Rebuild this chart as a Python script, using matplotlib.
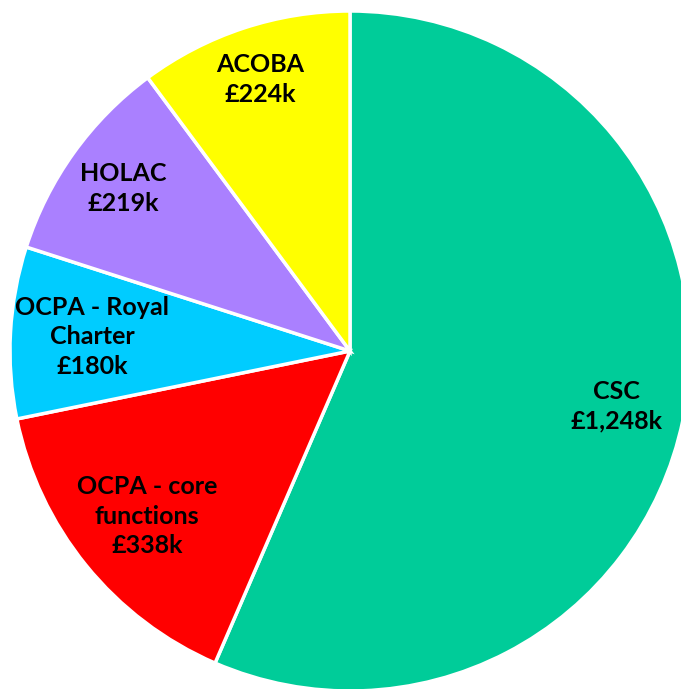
import numpy as np
import matplotlib.pyplot as plt

labels = ["CSC", "OCPA - core\nfunctions", "OCPA - Royal\nCharter", "HOLAC", "ACOBA"]
values = [1248, 338, 180, 219, 224]
value_labels = ["£1,248k", "£338k", "£180k", "£219k", "£224k"]
colors = ["#00CC99", "#FF0000", "#00CCFF", "#AA80FF", "#FFFF00"]
label_r = [0.80, 0.77, 0.76, 0.82, 0.84]

fig = plt.figure(figsize=(6.81, 6.89), dpi=100)
ax = fig.add_axes([0, 0, 1, 1])

cx, cy, r = 350, 338, 340
wedges, _ = ax.pie(values, colors=colors, startangle=90, counterclock=False,
                   center=(cx, cy), radius=r, frame=True,
                   wedgeprops=dict(edgecolor="white", linewidth=2.5))

for w, lab, val, lr in zip(wedges, labels, value_labels, label_r):
    ang = np.deg2rad((w.theta1 + w.theta2) / 2)
    x = cx + lr * r * np.cos(ang)
    y = cy + lr * r * np.sin(ang)
    ax.text(x, y, lab + "\n" + val, ha="center", va="center",
            fontsize=18, fontweight="bold", family="Lato", linespacing=1.35)

ax.set_xlim(0, 681)
ax.set_ylim(0, 689)
ax.set_aspect("equal")
ax.axis("off")

fig.savefig("out.png", dpi=100)
